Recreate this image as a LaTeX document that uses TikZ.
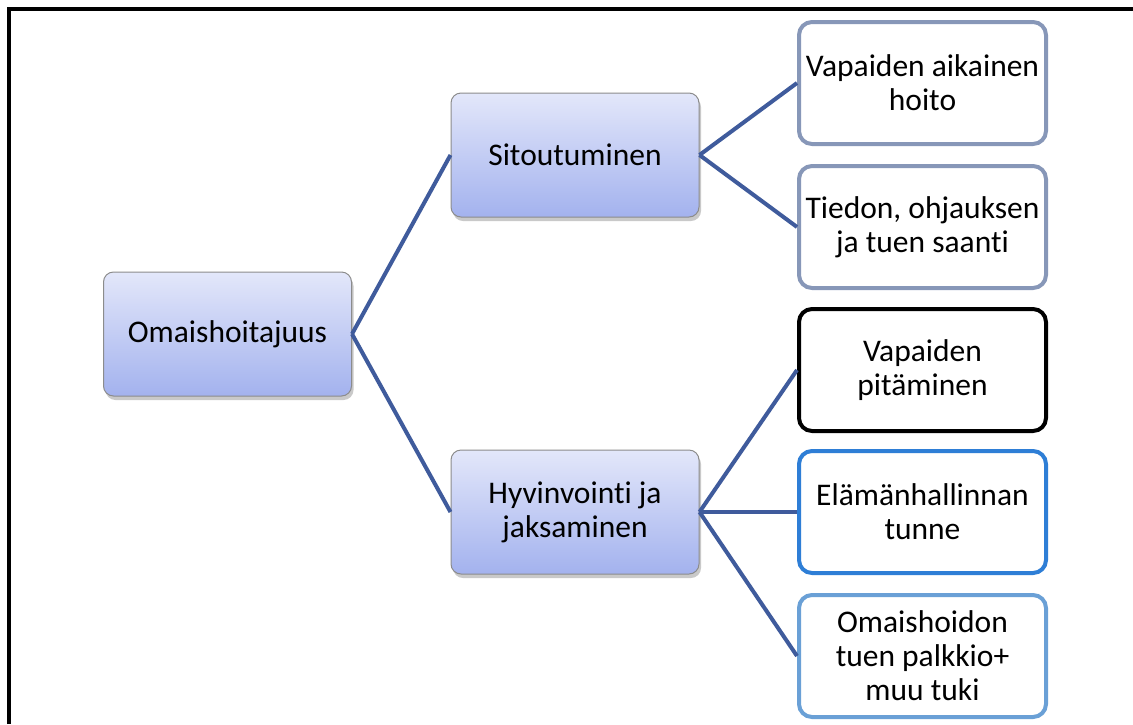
\documentclass[tikz,border=0pt]{standalone}
\usepackage{fontspec}
\setmainfont[Ligatures=NoCommon]{Carlito}
\usetikzlibrary{shadows}
\definecolor{linkc}{HTML}{3F5B9C}
\definecolor{gtop}{HTML}{E3E7FA}
\definecolor{gbot}{HTML}{A3B2EE}
\definecolor{grayb}{HTML}{8797B8}
\definecolor{blueb}{HTML}{2E7ED6}
\definecolor{lblueb}{HTML}{6AA0D6}
\tikzset{
  mainbox/.style={rectangle, rounded corners=10pt, minimum width=248pt, minimum height=124pt,
    draw=black!45, line width=1pt, top color=gtop, bottom color=gbot,
    drop shadow={shadow xshift=2pt, shadow yshift=-4pt, opacity=0.35, fill=black!60},
    align=center, font=\fontsize{31.5}{34}\selectfont, inner sep=0pt},
  leafbox/.style={rectangle, rounded corners=13pt, minimum width=247pt, minimum height=122pt,
    fill=white, line width=4pt, align=center, font=\fontsize{31.5}{34}\selectfont, inner sep=0pt},
  link/.style={draw=linkc, line width=4pt}
}
\begin{document}
\begin{tikzpicture}[x=1pt,y=-1pt]
\useasboundingbox (0,0) rectangle (1133,724);
\fill[white] (0,0) rectangle (1133,724);
\draw[line width=4pt] (9,724) -- (9,9) -- (1133,9);
\node[mainbox] (root) at (227.5,334) {Omaishoitajuus};
\node[mainbox] (sit) at (575,155) {Sitoutuminen};
\node[mainbox] (hyv) at (575,512) {Hyvinvointi ja\\jaksaminen};
\node[leafbox, draw=grayb] (l1) at (922.5,83) {Vapaiden aikainen\\hoito};
\node[leafbox, draw=grayb] (l2) at (922.5,227) {Tiedon, ohjauksen\\ja tuen saanti};
\node[leafbox, draw=black] (l3) at (922.5,370) {Vapaiden\\pitäminen};
\node[leafbox, draw=blueb] (l4) at (922.5,512) {Elämänhallinnan\\tunne};
\node[leafbox, draw=lblueb] (l5) at (922.5,656) {Omaishoidon\\tuen palkkio+\\muu tuki};
\path[link] (root.east) -- (sit.west);
\path[link] (root.east) -- (hyv.west);
\path[link] (sit.east) -- (l1.west);
\path[link] (sit.east) -- (l2.west);
\path[link] (hyv.east) -- (l3.west);
\path[link] (hyv.east) -- (l4.west);
\path[link] (hyv.east) -- (l5.west);
\end{tikzpicture}
\end{document}
